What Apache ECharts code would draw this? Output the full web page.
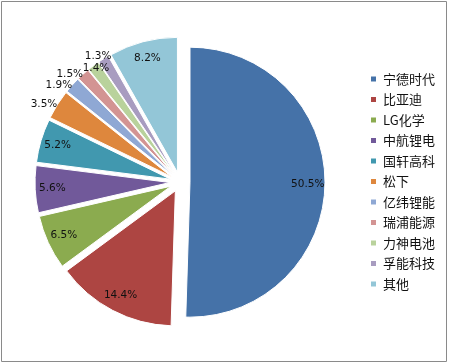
<!DOCTYPE html>
<html>
<head>
<meta charset="utf-8">
<script src="https://cdn.jsdelivr.net/npm/echarts@6/dist/echarts.min.js"></script>
<style>
html,body{margin:0;padding:0;background:#fff;}
#chart{width:449px;height:364px;}
</style>
</head>
<body>
<div id="chart"></div>
<script>
var categories = ['宁德时代','比亚迪','LG化学','中航锂电','国轩高科','松下','亿纬锂能','瑞浦能源','力神电池','孚能科技','其他'];
var values = [50.5, 14.4, 6.5, 5.6, 5.2, 3.5, 1.9, 1.5, 1.4, 1.3, 8.2];
var colors = ['#4572A8','#AD4542','#8BAB4F','#71599A','#4198AF','#DE873D','#8FA8D4','#D39493','#B9D29C','#A89CC0','#93C6D7'];
var insideLabel = [true, true, true, true, true, false, false, false, false, false, true];

var chart = echarts.init(document.getElementById('chart'));
var center = [180, 182];
var R = 135;

// small nudges for crowded outside labels (label styling only)
var labelNudge = { 8: [16, 2], 9: [8, -3] };

var pieData = categories.map(function (n, i) {
  return {
    name: n, value: values[i], selected: true,
    itemStyle: { color: colors[i] },
    label: { show: !insideLabel[i] }
  };
});
var labelData = categories.map(function (n, i) {
  return {
    name: n, value: values[i], selected: true,
    label: { show: insideLabel[i] }
  };
});

chart.setOption({
  animation: false,
  color: colors,
  graphic: [{
    type: 'rect', silent: true,
    shape: { x: 1.5, y: 1.5, width: 445, height: 360 },
    style: { fill: 'none', stroke: '#8a8a8a', lineWidth: 1 }
  }],
  legend: {
    orient: 'vertical',
    left: 369, top: 72,
    padding: 0,
    icon: 'rect',
    itemWidth: 7, itemHeight: 7,
    itemGap: 6.5,
    data: categories,
    selectedMode: false,
    textStyle: { fontFamily: 'Noto Sans CJK SC', fontSize: 13, color: '#111', lineHeight: 14, padding: [0,0,0,1] }
  },
  series: [{
    type: 'pie',
    center: center,
    radius: [0, R],
    startAngle: 90,
    clockwise: true,
    selectedMode: 'multiple',
    selectedOffset: 10,
    avoidLabelOverlap: false,
    emphasis: { disabled: true },
    itemStyle: { borderColor: '#fff', borderWidth: 1 },
    label: {
      position: 'outside',
      formatter: function (p) { return p.value.toFixed(1) + '%'; },
      fontFamily: 'DejaVu Sans', fontSize: 10.5, color: '#111',
      distanceToLabelLine: 0
    },
    labelLayout: function (p) {
      var s = labelNudge[p.dataIndex];
      return s ? { dx: s[0], dy: s[1], hideOverlap: false } : { hideOverlap: false };
    },
    labelLine: { show: false, length: 0, length2: 0 },
    data: pieData
  }, {
    type: 'pie',
    center: center,
    radius: [0, R * 1.7],
    startAngle: 90,
    clockwise: true,
    silent: true,
    selectedMode: 'multiple',
    selectedOffset: 10,
    avoidLabelOverlap: false,
    emphasis: { disabled: true },
    itemStyle: { color: 'rgba(0,0,0,0)' },
    label: {
      position: 'inside',
      formatter: function (p) { return p.value.toFixed(1) + '%'; },
      fontFamily: 'DejaVu Sans', fontSize: 10.5, color: '#111'
    },
    labelLayout: { hideOverlap: false },
    labelLine: { show: false },
    data: labelData
  }]
});
</script>
</body>
</html>
